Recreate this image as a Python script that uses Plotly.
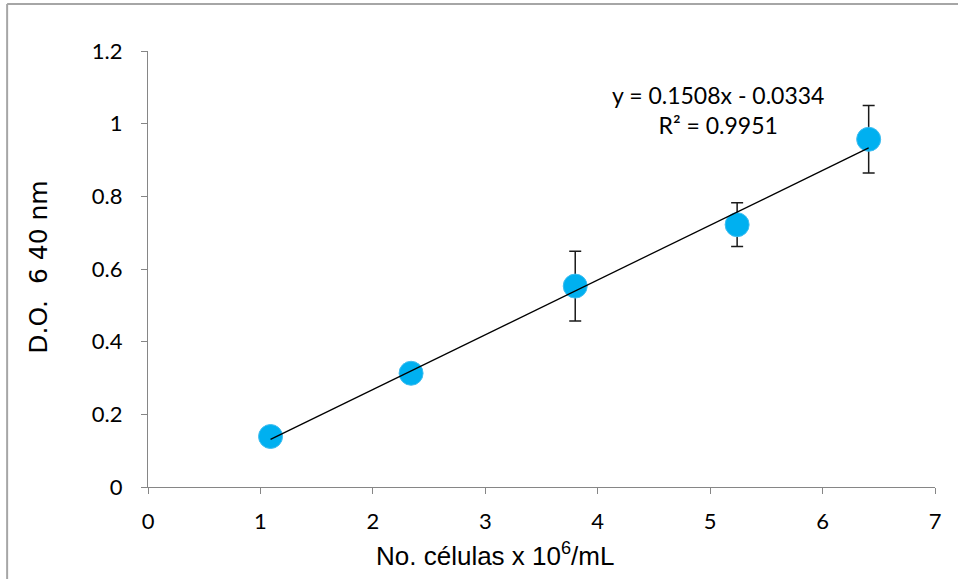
import plotly.graph_objects as go

# Data
cells = [1.09, 2.34, 3.80, 5.24, 6.41]          # No. células x 10^6/mL
od640 = [0.139, 0.313, 0.553, 0.722, 0.957]     # D.O. 640 nm
err = [0.0, 0.0, 0.096, 0.060, 0.093]           # error bars (+/-)

slope = 0.1508
intercept = -0.0334
r2 = 0.9951

x_ticks = [0, 1, 2, 3, 4, 5, 6, 7]
y_ticks = [0, 0.2, 0.4, 0.6, 0.8, 1, 1.2]
y_tick_text = ["0", "0.2", "0.4", "0.6", "0.8", "1", "1.2"]

fit_x = [min(cells), max(cells)]
fit_y = [slope * v + intercept for v in fit_x]

axis_gray = "#868686"
tick_font = dict(family="Lato, Open Sans, sans-serif", size=22, color="#000000")

fig = go.Figure()

fig.add_trace(go.Scatter(
    x=cells, y=od640, mode="markers",
    marker=dict(color="#00B0F0", size=24, line=dict(width=1, color="#3FBDF0")),
    error_y=dict(type="data", array=err, visible=True, color="#1a1a1a",
                 thickness=1.5, width=6),
    showlegend=False, hoverinfo="x+y",
))

fig.add_trace(go.Scatter(
    x=fit_x, y=fit_y, mode="lines",
    line=dict(color="#000000", width=1.3),
    showlegend=False, hoverinfo="skip",
))

fig.add_annotation(
    x=5.07, y=1.037, xref="x", yref="y",
    text=f"y = {slope}x - {abs(intercept)}<br>R² = {r2}",
    showarrow=False, align="center",
    font=dict(family="Lato, Open Sans, sans-serif", size=23, color="#000000"),
)

# axis titles placed as annotations to match the reference positions
fig.add_annotation(
    x=0.441, y=-0.155, xref="paper", yref="paper",
    xanchor="center", yanchor="middle",
    text="No. células x 10<sup>6</sup>/mL", showarrow=False,
    font=dict(family="Liberation Sans, Arial, sans-serif", size=26, color="#000000"),
)
fig.add_annotation(
    x=-0.1385, y=0.505, xref="paper", yref="paper",
    xanchor="center", yanchor="middle", textangle=-90,
    text="D.O.  6 40 nm", showarrow=False,
    font=dict(family="DejaVu Sans, sans-serif", size=25, color="#000000"),
)

fig.update_layout(
    width=958, height=579,
    margin=dict(l=148, r=23, t=51, b=92),
    paper_bgcolor="white", plot_bgcolor="white",
    font=dict(family="Lato, sans-serif", color="#000000"),
    shapes=[
        dict(type="line", xref="paper", yref="paper",
             x0=-0.179, x1=1.2, y0=1.108, y1=1.108,
             line=dict(color="#a6a6a6", width=2)),
        dict(type="line", xref="paper", yref="paper",
             x0=-0.179, x1=-0.179, y0=1.108, y1=-0.5,
             line=dict(color="#a6a6a6", width=2)),
    ],
)

fig.update_xaxes(
    range=[0, 7], tickvals=x_ticks, ticktext=[str(v) for v in x_ticks],
    showgrid=False, zeroline=False,
    showline=True, linecolor=axis_gray, linewidth=1.3,
    ticks="outside", ticklen=6, tickcolor=axis_gray, tickwidth=1.3,
    tickfont=tick_font, ticklabelstandoff=8,
)

fig.update_yaxes(
    range=[0, 1.2], tickvals=y_ticks, ticktext=y_tick_text,
    showgrid=False, zeroline=False,
    showline=True, linecolor=axis_gray, linewidth=1.3,
    ticks="outside", ticklen=6, tickcolor=axis_gray, tickwidth=1.3,
    tickfont=tick_font, ticklabelstandoff=14,
)

fig.write_html("out.html", config={"displayModeBar": False},
               post_script="document.body.style.margin='0';")
